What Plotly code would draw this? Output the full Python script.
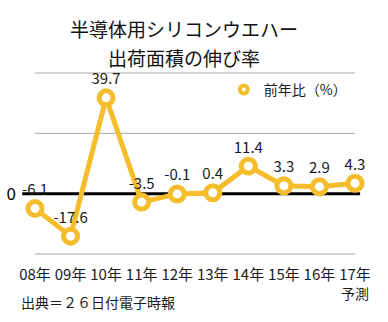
import plotly.graph_objects as go

# 半導体用シリコンウエハー出荷面積の伸び率（前年比 %）
years = ["08年", "09年", "10年", "11年", "12年", "13年", "14年", "15年", "16年", "17年"]
growth = [-6.1, -17.6, 39.7, -3.5, -0.1, 0.4, 11.4, 3.3, 2.9, 4.3]
labels = ["-6.1", "-17.6", "39.7", "-3.5", "-0.1", "0.4", "11.4", "3.3", "2.9", "4.3"]
grid_vals = [-25, 0, 25, 50]
grid_text = ["", "0", "", ""]

GOLD = "#F5BD2B"
FONT = "Noto Sans CJK JP"
Y_MIN, Y_MAX = -25, 50

fig = go.Figure()

fig.add_trace(go.Scatter(
    x=list(range(len(years))),
    y=growth,
    mode="lines+markers+text",
    text=labels,
    textposition="top center",
    textfont=dict(size=15, color="#1a1a1a", family=FONT),
    line=dict(color=GOLD, width=5),
    marker=dict(size=14, color="white", line=dict(color=GOLD, width=5)),
    showlegend=False,
    cliponaxis=False,
))

# legend entry (ring marker only)
fig.add_trace(go.Scatter(
    x=[None], y=[None],
    mode="markers",
    name="前年比（%）",
    marker=dict(size=8, color="white", line=dict(color=GOLD, width=4)),
))

# horizontal grid lines in paper units so the edge ones are not clipped
for v in grid_vals:
    if v == 0:
        continue
    yp = (v - Y_MIN) / (Y_MAX - Y_MIN)
    fig.add_shape(type="line", xref="paper", yref="paper", x0=0, x1=1, y0=yp, y1=yp,
                  line=dict(color="#a8a8a8", width=1), layer="below")

# thick zero baseline
fig.add_shape(type="line", xref="paper", yref="y",
              x0=-0.04, x1=1.016, y0=0, y1=0,
              line=dict(color="black", width=3), layer="below")

fig.update_layout(
    width=388, height=322,
    margin=dict(l=35, r=33, t=73, b=68),
    paper_bgcolor="white", plot_bgcolor="white",
    font=dict(family=FONT, color="#1a1a1a"),
    legend=dict(x=0.59, y=0.907, xanchor="left", yanchor="middle",
                font=dict(size=14, family=FONT), bgcolor="rgba(0,0,0,0)",
                itemwidth=30),
    annotations=[
        dict(text="半導体用シリコンウエハー", xref="paper", yref="paper",
             x=0.466, y=1.0, yshift=45, xanchor="center", yanchor="middle",
             showarrow=False, font=dict(size=19, family=FONT, color="#111")),
        dict(text="出荷面積の伸び率", xref="paper", yref="paper",
             x=0.466, y=1.0, yshift=16, xanchor="center", yanchor="middle",
             showarrow=False, font=dict(size=19, family=FONT, color="#111")),
        dict(text="予測", xref="x", yref="paper", x=9, y=0, yshift=-39,
             xanchor="center", yanchor="middle", showarrow=False,
             font=dict(size=14, family=FONT)),
        dict(text="出典＝２６日付電子時報", xref="paper", yref="paper",
             x=-0.05, y=0, yshift=-48, xanchor="left", yanchor="middle",
             showarrow=False, font=dict(size=14, family=FONT)),
    ],
)

fig.update_xaxes(
    range=[0, 9], tickvals=list(range(len(years))), ticktext=years,
    showgrid=False, zeroline=False, showline=False, ticks="",
    tickfont=dict(size=15, family=FONT), ticklabelstandoff=10,
    automargin=False,
)
fig.update_yaxes(
    range=[Y_MIN, Y_MAX], tickvals=grid_vals, ticktext=grid_text,
    showgrid=False, zeroline=False,
    showline=False, ticks="", tickfont=dict(size=17, family=FONT, color="black"),
    ticklabelstandoff=18, automargin=False,
)

fig.write_html("out.html")
